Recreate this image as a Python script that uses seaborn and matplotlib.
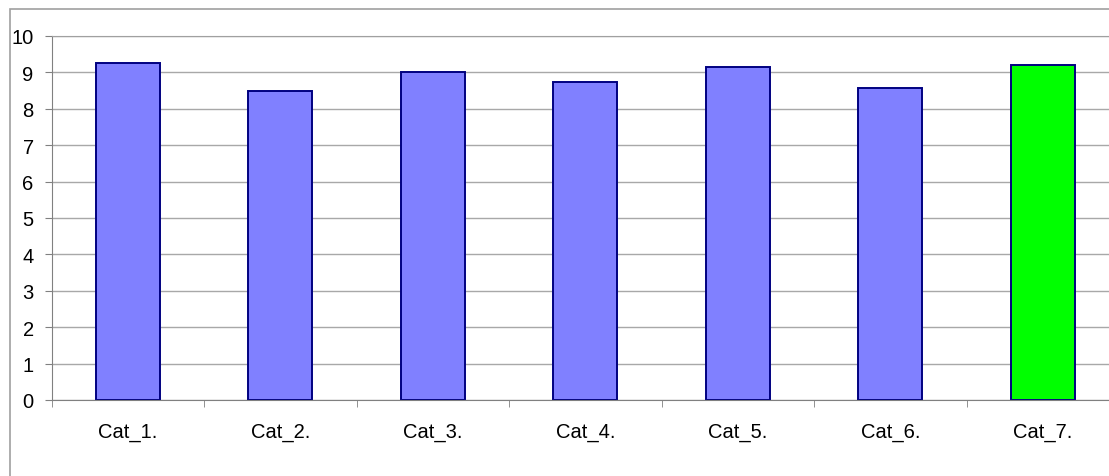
import matplotlib
matplotlib.use("Agg")
import matplotlib.pyplot as plt
import seaborn as sns
import pandas as pd
from matplotlib.patches import Rectangle

# data
categories = ["Cat_1.", "Cat_2.", "Cat_3.", "Cat_4.", "Cat_5.", "Cat_6.", "Cat_7."]
values = [9.27, 8.48, 9.00, 8.74, 9.16, 8.57, 9.21]
bar_colors = ["#8080FF"] * 6 + ["#00FF00"]

df = pd.DataFrame({"cat": categories, "val": values})

sns.set_style("white")
plt.rcParams["font.family"] = ["Liberation Sans", "DejaVu Sans"]

fig = plt.figure(figsize=(11.09, 4.77), dpi=100)

# outer chart border (only top and left visible in the crop)
fig.patches.append(Rectangle((10 / 1109, -0.1), 1.2, (477 - 10) / 477 + 0.1,
                             transform=fig.transFigure, fill=False,
                             edgecolor="#A0A0A0", linewidth=1.2))

ax = fig.add_axes([51.7 / 1109, 76 / 477, 1067.5 / 1109, 364 / 477])
sns.barplot(data=df, x="cat", y="val", hue="cat", palette=bar_colors,
            width=0.42, edgecolor="#000080", linewidth=1.4, legend=False,
            saturation=1, ax=ax)

ax.set_xlim(-0.5, 6.5)
ax.set_ylim(0, 10)
ax.set_yticks(range(0, 11))
ax.set_xticks([i + 0.5 for i in range(-1, 7)], minor=True)
ax.set_xlabel("")
ax.set_ylabel("")

ax.yaxis.grid(True, color="#A8A8A8", linewidth=1.0)
ax.set_axisbelow(True)
ax.spines["right"].set_visible(False)
ax.spines["top"].set_color("#A0A0A0")
ax.spines["left"].set_color("#808080")
ax.spines["bottom"].set_color("#808080")

ax.tick_params(axis="y", which="major", length=5, color="#808080", pad=8,
               labelsize=14.5, labelcolor="black", left=True)
ax.tick_params(axis="x", which="major", length=0, pad=16, labelsize=14.5,
               labelcolor="black")
ax.tick_params(axis="x", which="minor", length=5, color="#808080", bottom=True)

fig.savefig("out.png", dpi=100)
